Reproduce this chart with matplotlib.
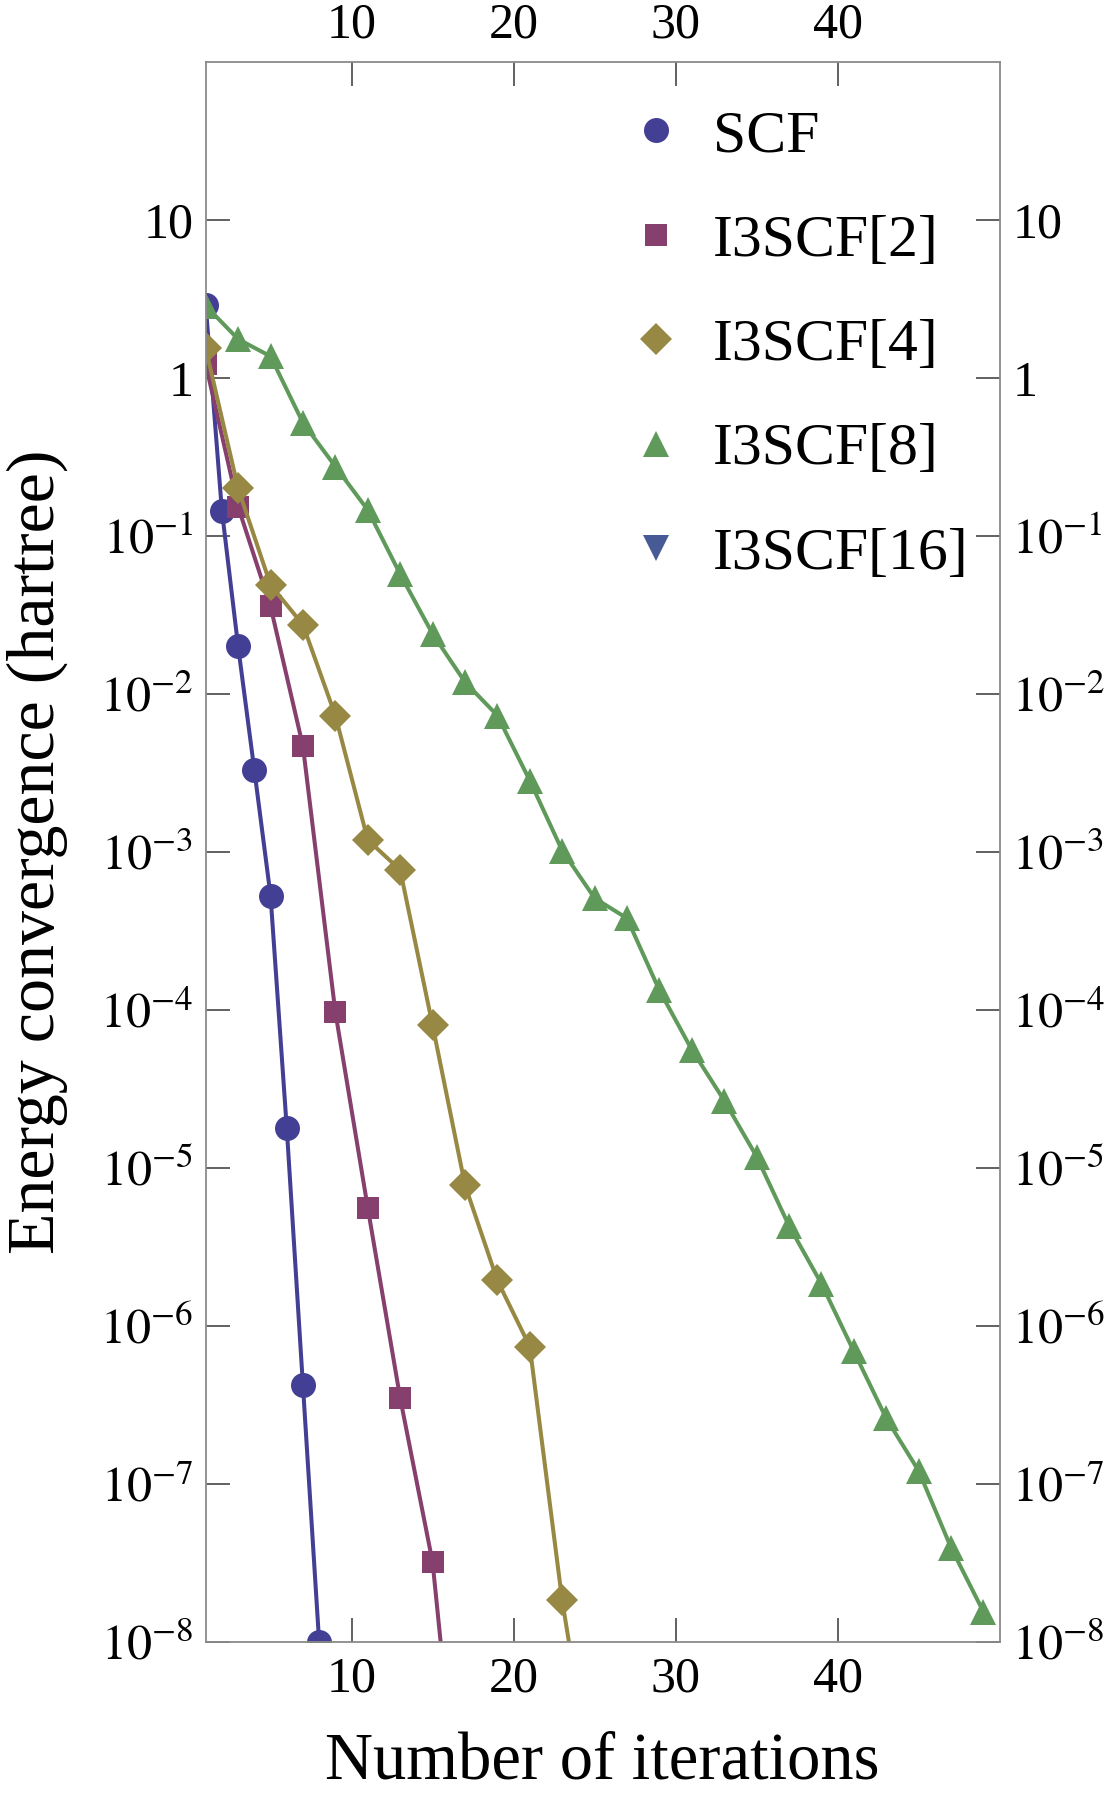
import numpy as np
import matplotlib
matplotlib.use("Agg")
import matplotlib.pyplot as plt
from matplotlib.ticker import FixedLocator, FuncFormatter, NullLocator
from matplotlib.lines import Line2D

# dati
scf_x = [1, 2, 3, 4, 5, 6, 7, 8]
scf_y = [2.9, 0.144, 0.020, 3.3e-3, 5.3e-4, 1.8e-5, 4.2e-7, 1.0e-8]

i2_x = [1, 3, 5, 7, 9, 11, 13, 15, 17]
i2_y = [1.22, 0.153, 0.0358, 4.67e-3, 9.7e-5, 5.6e-6, 3.5e-7, 3.2e-8, 3.0e-10]

i4_x = [1, 3, 5, 7, 9, 11, 13, 15, 17, 19, 21, 23, 25]
i4_y = [1.54, 0.20, 0.049, 0.0274, 7.3e-3, 1.19e-3, 7.7e-4, 8.0e-5,
        7.8e-6, 1.94e-6, 7.4e-7, 1.83e-8, 1.0e-9]

i8_x = [1, 3, 5, 7, 9, 11, 13, 15, 17, 19, 21, 23, 25, 27, 29, 31, 33,
        35, 37, 39, 41, 43, 45, 47, 49]
i8_y = [2.86, 1.76, 1.37, 0.52, 0.275, 0.146, 0.0573, 0.024, 0.0119,
        7.3e-3, 2.83e-3, 1.02e-3, 5.1e-4, 3.8e-4, 1.33e-4, 5.6e-5, 2.67e-5,
        1.18e-5, 4.3e-6, 1.85e-6, 6.9e-7, 2.6e-7, 1.21e-7, 3.95e-8, 1.55e-8]

i16_x = []
i16_y = []

etichette = ["SCF", "I3SCF[2]", "I3SCF[4]", "I3SCF[8]", "I3SCF[16]"]
colori = ["#433F95", "#873F6E", "#978843", "#5F9A5A", "#475A95"]
marcatori = ["o", "s", "D", "^", "v"]
dim_marc = [18, 15.5, 16, 18.5, 18.5]

x_ticks = [10, 20, 30, 40]
y_ticks = [1e-8, 1e-7, 1e-6, 1e-5, 1e-4, 1e-3, 1e-2, 1e-1, 1, 10]

plt.rcParams['font.family'] = ['Liberation Serif', 'DejaVu Serif']
plt.rcParams['mathtext.fontset'] = 'stix'


def fmt_y(v, pos):
    if v >= 10:
        return "10"
    if v >= 1:
        return "1"
    e = int(round(np.log10(v)))
    return r"$10^{%d}$" % e


fig = plt.figure(figsize=(11.12, 18.0), dpi=100)
ax = fig.add_axes([0.185, 0.0878, 0.714, 0.8778])

serie = [(scf_x, scf_y), (i2_x, i2_y), (i4_x, i4_y), (i8_x, i8_y), (i16_x, i16_y)]
for (xs, ys), lab, col, mk, ms in zip(serie, etichette, colori, marcatori, dim_marc):
    ax.plot(xs, ys, color=col, lw=2.9, marker=mk, markersize=ms,
            markeredgewidth=0, label=lab)

ax.set_yscale('log')
ax.set_xlim(1, 50)
ax.set_ylim(1e-8, 100)

ax.xaxis.set_major_locator(FixedLocator(x_ticks))
ax.yaxis.set_major_locator(FixedLocator(y_ticks))
ax.yaxis.set_major_formatter(FuncFormatter(fmt_y))
ax.yaxis.set_minor_locator(NullLocator())
ax.xaxis.set_minor_locator(NullLocator())

ax.tick_params(axis='both', which='major', direction='in', length=17, width=1.3,
               color='#555555', labelsize=36, top=True, right=True,
               labeltop=True, labelright=True)
ax.tick_params(axis='x', pad=10)
ax.tick_params(axis='y', pad=9)

for sp in ax.spines.values():
    sp.set_color('#8a8a8a')
    sp.set_linewidth(1.3)

ax.set_xlabel("Number of iterations", fontsize=48, labelpad=21)
ax.set_ylabel("Energy convergence (hartree)", fontsize=49, labelpad=23)

maniglie = [Line2D([], [], linestyle='none', marker=mk, color=col, markersize=ms,
                   markeredgewidth=0)
            for col, mk, ms in zip(colori, marcatori, dim_marc)]
leg = ax.legend(maniglie, etichette, loc='upper left', bbox_to_anchor=(0.507, 0.985),
                frameon=False, fontsize=43, handlelength=0.8, handletextpad=0.55,
                labelspacing=0.83, borderaxespad=0)

fig.savefig("out.png", dpi=100)
